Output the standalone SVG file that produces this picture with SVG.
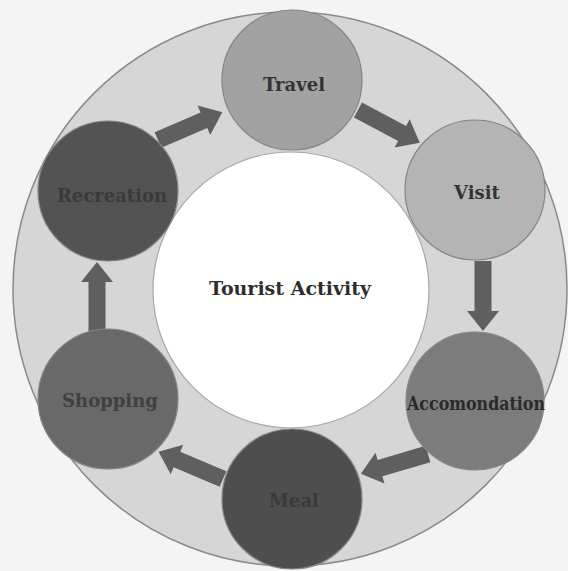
<svg xmlns="http://www.w3.org/2000/svg" width="568" height="571" viewBox="0 0 568 571">
  <style>
    .node { stroke: #858585; stroke-width: 1.2; }
    .lbl { font-family: "DejaVu Serif", "Liberation Serif", serif; font-weight: bold; font-size: 18px; text-anchor: middle; }
    .arrow { fill: #5f5f5f; }
  </style>
  <defs>
    <path id="arr" d="M0,-8.5 L50,-8.5 L50,-16 L70,0 L50,16 L50,8.5 L0,8.5 Z"/>
  </defs>
  <rect width="568" height="571" fill="#f4f4f4"/>
  <g id="ring">
    <circle cx="290" cy="289" r="277" fill="#d6d6d6" stroke="#8a8a8a" stroke-width="1.5"/>
    <circle cx="291" cy="290" r="138" fill="#ffffff" stroke="#a8a8a8" stroke-width="1.2"/>
  </g>
  <g id="connectors" class="arrow">
    <use href="#arr" transform="translate(358,110) rotate(28)"/>
    <use href="#arr" transform="translate(483,261) rotate(90)"/>
    <use href="#arr" transform="translate(428,454) rotate(163.7)"/>
    <use href="#arr" transform="translate(223,479) rotate(203)"/>
    <use href="#arr" transform="translate(97,332) rotate(-90)"/>
    <use href="#arr" transform="translate(158,140) rotate(-23.3)"/>
  </g>
  <g id="center">
    <text class="lbl" x="290" y="295" font-size="19" fill="#2e2e2e" style="font-size:19px">Tourist Activity</text>
  </g>
  <g id="travel">
    <circle class="node" cx="292" cy="80" r="70" fill="#a2a2a2"/>
    <text class="lbl" x="294" y="91" fill="#333333">Travel</text>
  </g>
  <g id="visit">
    <circle class="node" cx="475" cy="190" r="70" fill="#b4b4b4"/>
    <text class="lbl" x="477" y="199" fill="#333333">Visit</text>
  </g>
  <g id="accomondation">
    <circle class="node" cx="475" cy="401" r="69" fill="#7c7c7c"/>
    <text class="lbl" x="476" y="410" fill="#2a2a2a" textLength="138" lengthAdjust="spacingAndGlyphs">Accomondation</text>
  </g>
  <g id="meal">
    <circle class="node" cx="292" cy="499" r="70" fill="#4e4e4e"/>
    <text class="lbl" x="294" y="507" fill="#3a3a3a">Meal</text>
  </g>
  <g id="shopping">
    <circle class="node" cx="108" cy="399" r="70" fill="#696969"/>
    <text class="lbl" x="110" y="407" fill="#404040">Shopping</text>
  </g>
  <g id="recreation">
    <circle class="node" cx="108" cy="191" r="70" fill="#535353"/>
    <text class="lbl" x="112" y="202" fill="#3a3a3a">Recreation</text>
  </g>
</svg>
